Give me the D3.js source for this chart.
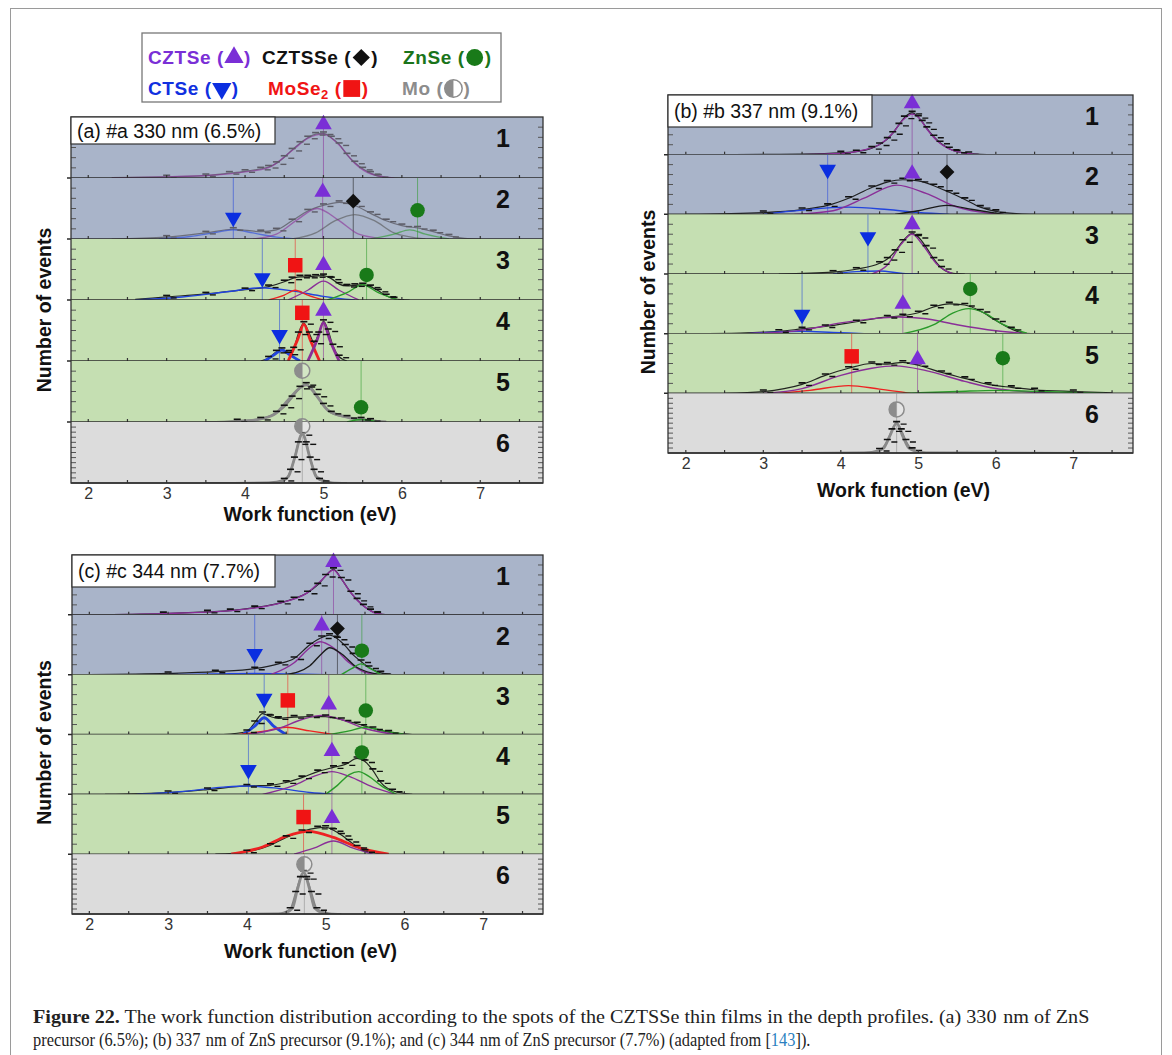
<!DOCTYPE html>
<html><head><meta charset="utf-8">
<script src="https://cdn.jsdelivr.net/npm/d3@7"></script>
<style>body{margin:0;background:#fff;} svg{display:block;font-family:"Liberation Sans",Arial,sans-serif;}</style>
</head><body><svg id="c" width="1172" height="1055"></svg>
<script>
// ---------------- DATA ----------------
const xTicks = [2, 3, 4, 5, 6, 7];
const rowNumbers = ["1", "2", "3", "4", "5", "6"];
const rowBands = ["blue", "blue", "green", "green", "green", "grey"];
const panelLabels = ["(a) #a 330 nm (6.5%)", "(b) #b 337 nm (9.1%)", "(c) #c 344 nm (7.7%)"];
const xTitle = "Work function (eV)";
const yTitle = "Number of events";
const legendRow1 = [["CZTSe", "CZTSe"], ["CZTSSe", "CZTSSe"], ["ZnSe", "ZnSe"]];
const legendRow2 = [["CTSe", "CTSe"], ["MoSe2", "MoSe"], ["Mo", "Mo"]];

// Panel (a): measured histograms (eV, normalised counts) per depth spot
const dataA = [
  [[2.3,0.005],[3.0,0.02],[3.5,0.04],[3.8,0.08],[4.0,0.11],[4.2,0.15],[4.3,0.18],[4.4,0.24],[4.5,0.34],[4.6,0.46],[4.7,0.57],[4.8,0.66],[4.9,0.72],[5.0,0.73],[5.1,0.66],[5.2,0.55],[5.3,0.38],[5.4,0.25],[5.5,0.15],[5.6,0.08],[5.7,0.03],[5.8,0.01],[6.0,0]],
  [[2.3,0],[3.0,0.03],[3.5,0.1],[3.85,0.16],[4.2,0.12],[4.4,0.15],[4.6,0.3],[4.8,0.46],[5.0,0.55],[5.2,0.6],[5.4,0.55],[5.6,0.42],[5.8,0.3],[6.0,0.22],[6.2,0.18],[6.4,0.12],[6.6,0.05],[6.8,0.01],[7.0,0]],
  [[2.6,0.01],[3.0,0.05],[3.5,0.1],[4.0,0.17],[4.3,0.22],[4.5,0.3],[4.6,0.35],[4.7,0.38],[4.8,0.38],[4.9,0.39],[5.0,0.4],[5.1,0.35],[5.2,0.26],[5.3,0.23],[5.4,0.24],[5.5,0.25],[5.6,0.22],[5.7,0.15],[5.8,0.07],[5.9,0.02],[6.1,0]],
  [[4.2,0],[4.3,0.05],[4.4,0.15],[4.47,0.19],[4.55,0.12],[4.62,0.2],[4.68,0.45],[4.75,0.62],[4.82,0.45],[4.88,0.3],[4.94,0.45],[5.0,0.65],[5.06,0.5],[5.12,0.25],[5.2,0.07],[5.3,0]],
  [[3.5,0],[3.9,0.02],[4.2,0.05],[4.4,0.15],[4.5,0.25],[4.6,0.4],[4.7,0.56],[4.78,0.62],[4.85,0.55],[4.92,0.43],[5.0,0.28],[5.1,0.15],[5.3,0.08],[5.48,0.05],[5.6,0.03],[5.8,0]],
  [[3.5,0],[4.3,0.01],[4.5,0.05],[4.58,0.2],[4.63,0.4],[4.68,0.65],[4.73,0.8],[4.78,0.65],[4.83,0.4],[4.88,0.2],[4.95,0.05],[5.1,0.01],[5.3,0]]
];
// Panel (a): fitted component curves
const fitsA = [
  [{m:"CZTSe", p:[[2.3,0],[3.5,0.04],[4.0,0.1],[4.3,0.17],[4.6,0.45],[4.8,0.65],[5.0,0.72],[5.2,0.54],[5.4,0.24],[5.6,0.07],[5.9,0]]}],
  [{m:"CTSe", p:[[2.9,0],[3.3,0.04],[3.6,0.1],[3.85,0.15],[4.1,0.1],[4.4,0.03],[4.7,0]]},
   {m:"CZTSe", p:[[4.1,0],[4.4,0.08],[4.65,0.3],[4.92,0.5],[5.2,0.3],[5.45,0.08],[5.8,0]]},
   {m:"CZTSSe", p:[[4.6,0],[4.9,0.1],[5.15,0.3],[5.4,0.4],[5.65,0.3],[5.9,0.1],[6.3,0]]},
   {m:"ZnSe", p:[[5.6,0],[5.9,0.08],[6.1,0.15],[6.3,0.08],[6.6,0]]}],
  [{m:"CTSe", p:[[2.6,0],[3.2,0.05],[3.8,0.14],[4.2,0.2],[4.6,0.15],[5.0,0.06],[5.4,0]]},
   {m:"MoSe2", p:[[4.3,0],[4.5,0.08],[4.64,0.16],[4.8,0.08],[5.0,0]]},
   {m:"CZTSe", p:[[4.55,0],[4.8,0.16],[5.0,0.31],[5.2,0.16],[5.45,0]]},
   {m:"ZnSe", p:[[5.05,0],[5.3,0.12],[5.5,0.25],[5.7,0.12],[5.95,0]]}],
  [{m:"CTSe", p:[[4.25,0],[4.37,0.1],[4.47,0.18],[4.57,0.1],[4.7,0]]},
   {m:"MoSe2", p:[[4.55,0],[4.67,0.35],[4.75,0.6],[4.83,0.35],[4.95,0]]},
   {m:"CZTSe", p:[[4.8,0],[4.92,0.35],[5.0,0.63],[5.08,0.35],[5.2,0]]}],
  [{m:"Mo", p:[[3.9,0],[4.2,0.05],[4.4,0.15],[4.55,0.36],[4.7,0.56],[4.78,0.61],[4.9,0.45],[5.05,0.2],[5.3,0.08],[5.6,0.02],[5.8,0]]},
   {m:"ZnSe", p:[[5.3,0],[5.48,0.04],[5.7,0]]}],
  [{m:"Mo", p:[[4.4,0],[4.55,0.1],[4.63,0.4],[4.73,0.81],[4.83,0.4],[4.91,0.1],[5.1,0]]}]
];
const markersA = [
  [{m:"CZTSe", x:5.0, y:0.88}],
  [{m:"CTSe", x:3.85, y:0.35},{m:"CZTSe", x:4.99, y:0.77},{m:"CZTSSe", x:5.38, y:0.62},{m:"ZnSe", x:6.2, y:0.47}],
  [{m:"CTSe", x:4.22, y:0.36},{m:"MoSe2", x:4.64, y:0.57},{m:"CZTSe", x:5.0, y:0.57},{m:"ZnSe", x:5.55, y:0.41}],
  [{m:"CTSe", x:4.44, y:0.43},{m:"MoSe2", x:4.73, y:0.79},{m:"CZTSe", x:5.0, y:0.82}],
  [{m:"Mo", x:4.73, y:0.84},{m:"ZnSe", x:5.48, y:0.24}],
  [{m:"Mo", x:4.73, y:0.93}]
];

// Panel (b)
const dataB = [
  [[2.0,0],[3.0,0.005],[3.5,0.01],[4.0,0.03],[4.2,0.05],[4.4,0.11],[4.5,0.17],[4.6,0.26],[4.67,0.36],[4.75,0.5],[4.82,0.62],[4.92,0.7],[5.0,0.63],[5.05,0.55],[5.11,0.44],[5.2,0.3],[5.28,0.2],[5.4,0.1],[5.5,0.05],[5.65,0.02],[5.8,0.005],[6.0,0]],
  [[2.0,0],[3.0,0.03],[3.5,0.08],[3.83,0.15],[4.1,0.27],[4.4,0.45],[4.6,0.54],[4.8,0.58],[5.0,0.56],[5.2,0.48],[5.4,0.37],[5.6,0.25],[5.8,0.12],[6.0,0.05],[6.3,0.01],[6.5,0]],
  [[3.2,0],[3.9,0.03],[4.2,0.08],[4.5,0.18],[4.6,0.25],[4.7,0.38],[4.8,0.55],[4.92,0.68],[5.0,0.62],[5.1,0.45],[5.2,0.25],[5.3,0.1],[5.45,0.01],[5.6,0]],
  [[2.1,0],[2.7,0.01],[3.2,0.04],[3.5,0.08],[3.8,0.12],[4.2,0.2],[4.6,0.28],[4.8,0.3],[5.0,0.35],[5.2,0.45],[5.4,0.5],[5.6,0.48],[5.8,0.38],[6.0,0.22],[6.2,0.08],[6.35,0.01],[6.5,0]],
  [[2.5,0],[3.0,0.03],[3.5,0.15],[3.8,0.3],[4.1,0.42],[4.4,0.5],[4.6,0.49],[4.8,0.52],[5.0,0.47],[5.3,0.35],[5.6,0.25],[5.9,0.15],[6.2,0.1],[6.5,0.06],[7.0,0.03],[7.5,0.01]],
  [[3.2,0],[4.3,0.01],[4.5,0.05],[4.6,0.2],[4.66,0.38],[4.72,0.5],[4.78,0.38],[4.84,0.2],[4.92,0.06],[5.1,0.01],[7.2,0]]
];
const fitsB = [
  [{m:"CZTSe", p:[[3.5,0],[4.0,0.02],[4.3,0.08],[4.5,0.17],[4.67,0.36],[4.8,0.58],[4.92,0.68],[5.02,0.6],[5.11,0.43],[5.28,0.19],[5.5,0.05],[5.8,0]]}],
  [{m:"CTSe", p:[[3.0,0],[3.5,0.07],[4.1,0.12],[4.6,0.08],[5.0,0.03],[5.4,0]]},
   {m:"CZTSe", p:[[3.4,0],[3.9,0.06],[4.3,0.27],[4.72,0.49],[5.1,0.35],[5.5,0.12],[5.9,0.02],[6.1,0]]},
   {m:"CZTSSe", p:[[4.7,0],[5.0,0.06],[5.37,0.15],[5.7,0.08],[6.1,0]]}],
  [{m:"CTSe", p:[[3.9,0],[4.2,0.04],[4.5,0.05],[4.8,0.01],[5.0,0]]},
   {m:"CZTSe", p:[[4.4,0],[4.6,0.15],[4.78,0.5],[4.92,0.67],[5.05,0.5],[5.25,0.15],[5.45,0]]}],
  [{m:"CTSe", p:[[2.8,0],[3.2,0.03],[3.5,0.04],[3.9,0.02],[4.3,0]]},
   {m:"CZTSe", p:[[2.8,0],[3.5,0.06],[4.0,0.18],[4.5,0.26],[4.75,0.28],[5.1,0.25],[5.5,0.15],[6.0,0.05],[6.4,0]]},
   {m:"ZnSe", p:[[4.8,0],[5.2,0.15],[5.45,0.35],[5.65,0.42],[5.85,0.35],[6.1,0.15],[6.4,0.01]]}],
  [{m:"MoSe2", p:[[3.2,0],[3.6,0.05],[4.1,0.13],[4.5,0.07],[4.9,0]]},
   {m:"CZTSe", p:[[3.0,0],[3.5,0.08],[4.0,0.3],[4.4,0.42],[4.7,0.46],[5.1,0.38],[5.6,0.2],[6.0,0.08],[6.5,0.02],[6.8,0]]},
   {m:"ZnSe", p:[[4.8,0],[5.5,0.03],[6.0,0.05],[6.6,0.03],[7.4,0]]}],
  [{m:"Mo", p:[[4.4,0],[4.55,0.08],[4.63,0.28],[4.72,0.5],[4.8,0.28],[4.88,0.08],[5.05,0]]}]
];
const markersB = [
  [{m:"CZTSe", x:4.92, y:0.86}],
  [{m:"CTSe", x:3.83, y:0.75},{m:"CZTSe", x:4.92, y:0.68},{m:"CZTSSe", x:5.37, y:0.71}],
  [{m:"CTSe", x:4.35, y:0.62},{m:"CZTSe", x:4.92, y:0.83}],
  [{m:"CTSe", x:3.5, y:0.32},{m:"CZTSe", x:4.8, y:0.5},{m:"ZnSe", x:5.67, y:0.75}],
  [{m:"MoSe2", x:4.14, y:0.62},{m:"CZTSe", x:4.99, y:0.57},{m:"ZnSe", x:6.09, y:0.59}],
  [{m:"Mo", x:4.72, y:0.73}]
];

// Panel (c)
const dataC = [
  [[2.0,0],[2.94,0.02],[3.5,0.05],[3.79,0.07],[4.1,0.12],[4.43,0.2],[4.6,0.27],[4.77,0.37],[4.9,0.5],[5.0,0.65],[5.1,0.76],[5.2,0.6],[5.32,0.37],[5.4,0.25],[5.48,0.15],[5.57,0.07],[5.66,0.02],[5.8,0]],
  [[2.0,0],[3.0,0.02],[3.6,0.05],[4.1,0.1],[4.4,0.18],[4.6,0.27],[4.8,0.5],[4.95,0.62],[5.05,0.66],[5.15,0.6],[5.25,0.48],[5.35,0.33],[5.45,0.22],[5.55,0.12],[5.7,0.03],[5.85,0]],
  [[3.7,0],[4.0,0.05],[4.1,0.2],[4.2,0.35],[4.3,0.3],[4.4,0.27],[4.6,0.29],[4.8,0.3],[5.0,0.3],[5.2,0.25],[5.4,0.18],[5.6,0.1],[5.8,0.04],[6.0,0.01],[6.1,0]],
  [[2.2,0],[3.0,0.03],[3.5,0.08],[4.0,0.14],[4.3,0.15],[4.5,0.2],[4.7,0.28],[4.9,0.38],[5.1,0.45],[5.25,0.5],[5.4,0.6],[5.5,0.55],[5.6,0.4],[5.7,0.2],[5.85,0.06],[6.1,0]],
  [[3.6,0],[4.0,0.04],[4.3,0.15],[4.5,0.28],[4.7,0.38],[4.9,0.44],[5.0,0.45],[5.1,0.4],[5.2,0.32],[5.3,0.22],[5.4,0.12],[5.5,0.05],[5.8,0]],
  [[3.5,0],[4.4,0.01],[4.55,0.08],[4.62,0.35],[4.68,0.6],[4.72,0.7],[4.76,0.6],[4.82,0.35],[4.89,0.08],[5.05,0.01],[5.2,0]]
];
const fitsC = [
  [{m:"CZTSe", p:[[2.0,0],[2.94,0.02],[3.79,0.07],[4.43,0.2],[4.77,0.37],[4.95,0.58],[5.1,0.75],[5.2,0.6],[5.32,0.37],[5.48,0.15],[5.66,0.02],[5.8,0]]}],
  [{m:"CTSe", p:[[3.0,0],[3.6,0.01],[4.1,0.02],[4.6,0.01],[5.0,0]]},
   {m:"CZTSe", p:[[4.3,0],[4.6,0.2],[4.8,0.45],[4.93,0.55],[5.1,0.45],[5.3,0.2],[5.5,0.04],[5.7,0]]},
   {m:"CZTSSe", p:[[4.5,0],[4.8,0.15],[4.95,0.35],[5.05,0.45],[5.2,0.35],[5.4,0.12],[5.7,0]]},
   {m:"ZnSe", p:[[5.2,0],[5.33,0.1],[5.45,0.18],[5.57,0.1],[5.7,0]]}],
  [{m:"CTSe", p:[[3.95,0],[4.1,0.14],[4.22,0.28],[4.34,0.14],[4.5,0]]},
   {m:"MoSe2", p:[[3.9,0],[4.2,0.05],[4.5,0.12],[4.8,0.06],[5.1,0]]},
   {m:"CZTSe", p:[[4.0,0],[4.4,0.1],[4.7,0.25],[4.95,0.32],[5.2,0.25],[5.5,0.1],[5.9,0]]},
   {m:"ZnSe", p:[[5.05,0],[5.3,0.06],[5.5,0.12],[5.75,0.06],[6.0,0]]}],
  [{m:"CTSe", p:[[2.6,0],[3.2,0.05],[3.7,0.12],[4.0,0.14],[4.4,0.1],[4.8,0.03],[5.1,0]]},
   {m:"CZTSe", p:[[4.2,0],[4.6,0.15],[4.85,0.3],[5.08,0.38],[5.3,0.3],[5.6,0.12],[5.9,0]]},
   {m:"ZnSe", p:[[5.0,0],[5.15,0.15],[5.3,0.33],[5.42,0.38],[5.55,0.3],[5.7,0.15],[5.9,0]]}],
  [{m:"MoSe2", p:[[3.8,0],[4.2,0.12],[4.5,0.3],[4.78,0.38],[5.1,0.28],[5.4,0.12],[5.8,0]]},
   {m:"CZTSe", p:[[4.6,0],[4.85,0.1],[5.1,0.22],[5.35,0.1],[5.6,0]]}],
  [{m:"Mo", p:[[4.45,0],[4.58,0.1],[4.64,0.4],[4.72,0.69],[4.8,0.4],[4.86,0.1],[5.0,0]]}]
];
const markersC = [
  [{m:"CZTSe", x:5.1, y:0.88}],
  [{m:"CTSe", x:4.1, y:0.35},{m:"CZTSe", x:4.95, y:0.82},{m:"CZTSSe", x:5.15, y:0.77},{m:"ZnSe", x:5.46, y:0.4}],
  [{m:"CTSe", x:4.22, y:0.6},{m:"MoSe2", x:4.52, y:0.57},{m:"CZTSe", x:5.04, y:0.5},{m:"ZnSe", x:5.51, y:0.4}],
  [{m:"CTSe", x:4.02, y:0.41},{m:"CZTSe", x:5.08, y:0.72},{m:"ZnSe", x:5.46, y:0.7}],
  [{m:"MoSe2", x:4.72, y:0.62},{m:"CZTSe", x:5.08, y:0.6}],
  [{m:"Mo", x:4.73, y:0.83}]
];

const captionBold = "Figure 22.";
const captionLine1 = " The work function distribution according to the spots of the CZTSSe thin films in the depth profiles. (a) 330\u2004nm of ZnS";
const captionLine2a = "precursor (6.5%); (b) 337\u2004nm of ZnS precursor (9.1%); and (c) 344\u2004nm of ZnS precursor (7.7%) (adapted from [";
const captionRef = "143";
const captionLine2b = "]).";

// ---------------- STYLE / LAYOUT ----------------
const bandColors = {blue: "#a9b4c9", green: "#c5dfb2", grey: "#dcdcdc"};
const markerColors = {CZTSe: "#7a2fd6", CZTSSe: "#111111", ZnSe: "#197a19", CTSe: "#0b2ee0", MoSe2: "#f01414", Mo: "#8c8c8c"};
const fitColors = {CZTSe: "#8a2f98", CZTSSe: "#1a1a1a", ZnSe: "#2a9a2a", CTSe: "#2244dd", MoSe2: "#ee2222", Mo: "#8a8a8a"};
const legendColors = {CZTSe: "#7a2fd6", CZTSSe: "#111", ZnSe: "#1a741a", CTSe: "#1030e0", MoSe2: "#f01414", Mo: "#8c8c8c"};
const thickFits = {a3: ["CTSe","MoSe2","CZTSe"], a4: ["Mo"], a5: ["Mo"], b5: ["Mo"], c2: ["CTSe"], c4: ["MoSe2"], c5: ["Mo"]};
const fadedRows = {a0: true, a1: true};
const greyDataRows = {a4: true, a5: true, b5: true, c5: true};

const layouts = [
  {id:"a", left:71, right:543, top:117, bottom:483, domain:[1.78,7.8], box:[204,27], yTitleX:44, yTitleDy:10, xTitleDy:38, data:dataA, fits:fitsA, markers:markersA, numX:503},
  {id:"b", left:668, right:1133, top:95, bottom:453, domain:[1.77,7.77], box:[204,32], yTitleX:648, yTitleDy:18, xTitleDy:44, data:dataB, fits:fitsB, markers:markersB, numX:1092},
  {id:"c", left:72, right:543, top:555, bottom:914, domain:[1.78,7.76], box:[203,32], yTitleX:44, yTitleDy:8, xTitleDy:44, data:dataC, fits:fitsC, markers:markersC, numX:503}
];

const svg = d3.select("#c");
svg.append("rect").attr("x", 10.5).attr("y", 8.5).attr("width", 1151).attr("height", 1060)
  .attr("fill", "none").attr("stroke", "#9a9a9a").attr("stroke-width", 1);

function drawMarker(g, m, cx, cy, scale) {
  const s = scale || 1;
  const col = markerColors[m];
  const t = `translate(${cx},${cy})`;
  if (m === "CZTSe") {
    g.append("path").attr("d", d3.symbol(d3.symbolTriangle, 120 * s)()).attr("transform", t).attr("fill", col);
  } else if (m === "CTSe") {
    g.append("path").attr("d", d3.symbol(d3.symbolTriangle, 120 * s)()).attr("transform", t + " rotate(180)").attr("fill", col);
  } else if (m === "CZTSSe") {
    g.append("path").attr("d", d3.symbol(d3.symbolSquare, 110 * s)()).attr("transform", t + " rotate(45)").attr("fill", col);
  } else if (m === "ZnSe") {
    g.append("path").attr("d", d3.symbol(d3.symbolCircle, 165 * s)()).attr("transform", t).attr("fill", col);
  } else if (m === "MoSe2") {
    g.append("path").attr("d", d3.symbol(d3.symbolSquare, 210 * s)()).attr("transform", t).attr("fill", col);
  } else if (m === "Mo") {
    const r = 7.5 * Math.sqrt(s);
    g.append("circle").attr("cx", cx).attr("cy", cy).attr("r", r).attr("fill", "rgba(255,255,255,0.25)").attr("stroke", col).attr("stroke-width", 1.5);
    g.append("path").attr("d", `M0,${-r} A${r},${r} 0 0 0 0,${r} Z`).attr("transform", t).attr("fill", col);
  }
}

layouts.forEach((L, pi) => {
  const x = d3.scaleLinear().domain(L.domain).range([L.left, L.right]);
  const rowH = (L.bottom - L.top) / 6;
  const pg = svg.append("g");
  rowBands.forEach((band, i) => {
    const y0 = L.top + i * rowH, y1 = y0 + rowH;
    const y = d3.scaleLinear().domain([0, 1]).range([y1, y0]);
    const key = L.id + i;
    const faded = !!fadedRows[key];
    const g = pg.append("g");
    g.append("rect").attr("x", L.left).attr("y", y0).attr("width", L.right - L.left).attr("height", rowH).attr("fill", bandColors[band]);
    const clipId = "clip" + key;
    svg.append("clipPath").attr("id", clipId).append("rect").attr("x", L.left).attr("y", y0 - 1).attr("width", L.right - L.left).attr("height", rowH + 1);
    const cg = g.append("g").attr("clip-path", `url(#${clipId})`);
    L.markers[i].forEach(mk => {
      cg.append("line").attr("x1", x(mk.x)).attr("x2", x(mk.x)).attr("y1", y0).attr("y2", y1)
        .attr("stroke", fitColors[mk.m]).attr("stroke-width", 1).attr("opacity", 0.55);
    });
    const line = d3.line().x(d => x(d[0])).y(d => y(d[1])).curve(d3.curveMonotoneX);
    const dcol = faded ? "#5c5c66" : "#111";
    const greyData = !!greyDataRows[key];
    cg.append("path").attr("d", line(L.data[i])).attr("fill", "none").attr("stroke", greyData ? "#777" : dcol)
      .attr("stroke-width", greyData ? 1.8 : 1.2).attr("opacity", faded ? 0.8 : 0.9);
    L.fits[i].forEach(f => {
      const thick = thickFits[key] && thickFits[key].includes(f.m);
      cg.append("path").attr("d", line(f.p)).attr("fill", "none")
        .attr("stroke", faded && f.m === "CZTSSe" ? "#555" : fitColors[f.m])
        .attr("stroke-width", thick ? 2.8 : 1.4)
        .attr("opacity", faded ? 0.6 : 1);
    });
    const pts = L.data[i].filter(d => d[1] > 0.015);
    cg.selectAll(null).data(pts).enter().append("line")
      .attr("x1", d => x(d[0]) - 3.5).attr("x2", d => x(d[0]) + 3.5)
      .attr("y1", d => y(d[1]) - 1.5).attr("y2", d => y(d[1]) - 1.5)
      .attr("stroke", dcol).attr("stroke-width", 1.6);
    cg.selectAll(null).data(pts).enter().append("line")
      .attr("x1", d => x(d[0]) + 4).attr("x2", d => x(d[0]) + 10)
      .attr("y1", d => y(d[1]) + 1).attr("y2", d => y(d[1]) + 1)
      .attr("stroke", dcol).attr("stroke-width", 1.4);
    L.markers[i].forEach(mk => drawMarker(g, mk.m, x(mk.x), y(mk.y)));
    const nT = i === 5 ? 12 : 6;
    d3.range(1, nT).map(k => k / nT).forEach(v => {
      g.append("line").attr("x1", L.left).attr("x2", L.left + 5).attr("y1", y(v)).attr("y2", y(v)).attr("stroke", "#555").attr("stroke-width", 1);
      g.append("line").attr("x1", L.right - 5).attr("x2", L.right).attr("y1", y(v)).attr("y2", y(v)).attr("stroke", "#555").attr("stroke-width", 1);
    });
    d3.range(2, 8, 0.5).forEach(v => {
      g.append("line").attr("x1", x(v)).attr("x2", x(v)).attr("y1", y1).attr("y2", y1 - 3).attr("stroke", "#333").attr("stroke-width", 1.2);
    });
    g.append("line").attr("x1", L.left - (i < 5 ? 4 : 0)).attr("x2", L.right).attr("y1", y1).attr("y2", y1).attr("stroke", "#2a2a2a").attr("stroke-width", 1.5);
    g.append("text").attr("x", L.numX).attr("y", y0 + 30).attr("text-anchor", "middle")
      .attr("font-size", 25).attr("font-weight", "bold").attr("fill", "#111").text(rowNumbers[i]);
  });
  pg.append("rect").attr("x", L.left).attr("y", L.top).attr("width", L.right - L.left).attr("height", L.bottom - L.top)
    .attr("fill", "none").attr("stroke", "#333").attr("stroke-width", 1.3);
  const ax = d3.axisBottom(x).tickValues(xTicks).tickSize(0).tickPadding(5).tickFormat(d3.format("d"));
  const axg = pg.append("g").attr("transform", `translate(0,${L.bottom})`).call(ax);
  axg.select(".domain").remove();
  axg.selectAll("text").attr("font-size", 16).attr("fill", "#333").attr("font-family", "Liberation Sans, Arial, sans-serif");
  pg.append("text").attr("x", (L.left + L.right) / 2 + 3).attr("y", L.bottom + L.xTitleDy).attr("text-anchor", "middle")
    .attr("font-size", 19.5).attr("font-weight", "bold").attr("fill", "#111").text(xTitle);
  pg.append("text").attr("transform", `translate(${L.yTitleX},${(L.top + L.bottom) / 2 + L.yTitleDy}) rotate(-90)`)
    .attr("text-anchor", "middle").attr("dy", "0.35em").attr("font-size", 19.5).attr("font-weight", "bold").attr("fill", "#111").text(yTitle);
  pg.append("rect").attr("x", L.left).attr("y", L.top).attr("width", L.box[0]).attr("height", L.box[1])
    .attr("fill", "#fff").attr("stroke", "#333").attr("stroke-width", 1.2);
  pg.append("text").attr("x", L.left + 6).attr("y", L.top + L.box[1] / 2).attr("dy", "0.36em")
    .attr("font-size", 19.5).attr("fill", "#111").text(panelLabels[pi]);
});

// legend
const lg = svg.append("g");
lg.append("rect").attr("x", 142).attr("y", 33).attr("width", 359).attr("height", 69).attr("fill", "#fff").attr("stroke", "#777").attr("stroke-width", 1.3);
function legendItem(x0, y0, mat, label) {
  const col = legendColors[mat];
  const t = lg.append("text").attr("x", x0).attr("y", y0).attr("font-size", 19).attr("font-weight", "bold")
    .attr("letter-spacing", 0.6).attr("fill", col);
  t.append("tspan").text(label);
  if (mat === "MoSe2") {
    t.append("tspan").attr("font-size", 13).attr("dy", 4).text("2");
    t.append("tspan").attr("dy", -4).text(" (");
  } else {
    t.append("tspan").text(" (");
  }
  const w = t.node().getComputedTextLength();
  const symX = x0 + w + 10;
  drawMarker(lg, mat, symX, y0 - 6.5, 1.35);
  lg.append("text").attr("x", symX + 10).attr("y", y0).attr("font-size", 19).attr("font-weight", "bold").attr("fill", col).text(")");
}
const lgX = [148, 262, 403];
const lgX2 = [148, 268, 402];
legendRow1.forEach((d, k) => legendItem(lgX[k], 64, d[0], d[1]));
legendRow2.forEach((d, k) => legendItem(lgX2[k], 95, d[0], d[1]));

// caption
function captionLine(yb, target, parts) {
  const t = svg.append("text").attr("font-family", "Liberation Serif, serif").attr("font-size", 18).attr("fill", "#222");
  parts.forEach(p => {
    const s = t.append("tspan").text(p.s);
    if (p.b) s.attr("font-weight", "bold");
    if (p.c) s.attr("fill", p.c);
  });
  const w = t.node().getComputedTextLength();
  t.attr("transform", `translate(33,${yb}) scale(${target / w},1)`);
}
captionLine(1023, 1057, [{s: captionBold, b: true}, {s: captionLine1}]);
captionLine(1046, 778, [{s: captionLine2a}, {s: captionRef, c: "#2a7fc0"}, {s: captionLine2b}]);
</script></body></html>
